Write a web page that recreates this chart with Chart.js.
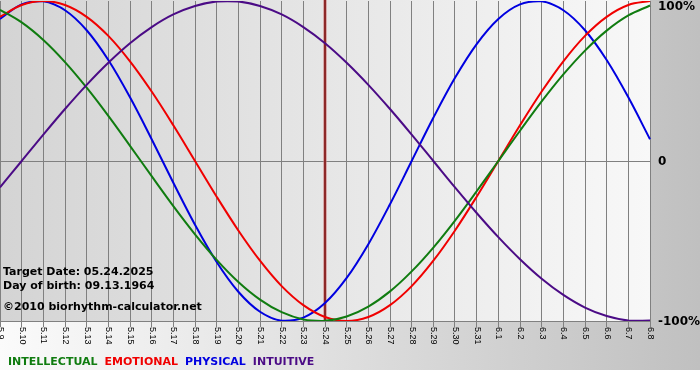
<!DOCTYPE html>
<html>
<head>
<meta charset="utf-8">
<script src="https://cdn.jsdelivr.net/npm/chart.js@4"></script>
<style>
  html, body { margin: 0; padding: 0; background: #fff; }
  canvas { display: block; }
</style>
</head>
<body>
<canvas id="bioChart" width="700" height="380"></canvas>
<script>
// days shown on the x axis (month.day)
var days = ['5.9', '5.10', '5.11', '5.12', '5.13', '5.14', '5.15', '5.16', '5.17', '5.18',
  '5.19', '5.20', '5.21', '5.22', '5.23', '5.24', '5.25', '5.26', '5.27', '5.28',
  '5.29', '5.30', '5.31', '6.1', '6.2', '6.3', '6.4', '6.5', '6.6', '6.7', '6.8'];

// cycle values in percent, one per day
var intellectual = [94.5, 86.6, 75.6, 61.8, 45.8, 28.2, 9.5, -9.5, -28.2, -45.8, -61.8,
  -75.6, -86.6, -94.5, -99.0, -99.9, -97.2, -91.0, -81.5, -69.0, -54.1, -37.2, -18.9,
  0, 18.9, 37.2, 54.1, 69.0, 81.5, 91.0, 97.2];
var emotional = [90.1, 97.5, 100, 97.5, 90.1, 78.2, 62.3, 43.4, 22.3, 0, -22.3, -43.4,
  -62.3, -78.2, -90.1, -97.5, -100, -97.5, -90.1, -78.2, -62.3, -43.4, -22.3, 0, 22.3,
  43.4, 62.3, 78.2, 90.1, 97.5, 100];
var physical = [88.8, 97.9, 99.8, 94.2, 81.7, 63.1, 39.8, 13.6, -13.6, -39.8, -63.1,
  -81.7, -94.2, -99.8, -97.9, -88.8, -73.1, -52.0, -27.0, 0, 27.0, 52.0, 73.1, 88.8,
  97.9, 99.8, 94.2, 81.7, 63.1, 39.8, 13.6];
var intuitive = [-16.5, 0, 16.5, 32.5, 47.6, 61.4, 73.6, 83.7, 91.6, 96.9, 99.7, 99.7,
  96.9, 91.6, 83.7, 73.6, 61.4, 47.6, 32.5, 16.5, 0, -16.5, -32.5, -47.6, -61.4, -73.6,
  -83.7, -91.6, -96.9, -99.7, -99.7];

var targetDay = '5.24';
var infoLines = ['Target Date: 05.24.2025', 'Day of birth: 09.13.1964'];
var copyright = '\u00a92010 biorhythm-calculator.net';
var percentLabels = [[100, '100%'], [0, '0'], [-100, '-100%']];
var legendItems = [['INTELLECTUAL', '#107c10'], ['EMOTIONAL', '#f00000'],
  ['PHYSICAL', '#0000e0'], ['INTUITIVE', '#4b0b86']];

var boldFont = 'bold 11px "DejaVu Sans"';

// backgrounds, target marker, axis labels and texts
var bioDecor = {
  id: 'bioDecor',
  beforeDraw: function (chart) {
    var c = chart.ctx, a = chart.chartArea;
    c.save();
    c.fillStyle = '#fff';
    c.fillRect(0, 0, chart.width, chart.height);
    var outer = c.createLinearGradient(0, 0, chart.width, 0);
    outer.addColorStop(0, '#fbfbfb');
    outer.addColorStop(1, '#c0c0c0');
    c.fillStyle = outer;
    c.fillRect(0, 0, chart.width, 370);
    var inner = c.createLinearGradient(a.left, 0, a.right, 0);
    inner.addColorStop(0, '#d4d4d4');
    inner.addColorStop(1, '#f8f8f8');
    c.fillStyle = inner;
    c.fillRect(a.left, a.top - 1, a.right - a.left, a.bottom - a.top + 1);
    c.restore();
  },
  beforeDatasetsDraw: function (chart) {
    var c = chart.ctx, a = chart.chartArea;
    var x = chart.scales.x.getPixelForValue(days.indexOf(targetDay));
    c.save();
    c.strokeStyle = '#c87070';
    c.lineWidth = 3;
    c.beginPath();
    c.moveTo(x, 0);
    c.lineTo(x, a.bottom);
    c.stroke();
    c.strokeStyle = '#7a1010';
    c.lineWidth = 1.5;
    c.beginPath();
    c.moveTo(x, 0);
    c.lineTo(x, a.bottom);
    c.stroke();
    c.restore();
  },
  afterDraw: function (chart) {
    var c = chart.ctx, a = chart.chartArea;
    var xs = chart.scales.x, ys = chart.scales.y;
    c.save();

    // day labels, reading downwards
    c.fillStyle = '#000';
    c.font = '9px "Liberation Sans"';
    c.textAlign = 'left';
    c.textBaseline = 'middle';
    days.forEach(function (d, i) {
      var x = Math.round(xs.getPixelForValue(i)) + 0.5;
      c.save();
      c.translate(x, a.bottom + 6);
      c.rotate(Math.PI / 2);
      c.fillText(d, 0, 0);
      c.restore();
    });

    // percent labels on the right
    c.fillStyle = '#000';
    c.font = 'bold 12px "DejaVu Sans"';
    percentLabels.forEach(function (p) {
      c.fillText(p[1], a.right + 8, ys.getPixelForValue(p[0]) + (p[0] === 100 ? 6 : 1));
    });

    // info texts
    c.font = boldFont;
    c.textBaseline = 'middle';
    c.fillText(infoLines[0], 3, 272);
    c.fillText(infoLines[1], 3, 286);
    c.fillText(copyright, 3, 307);

    // legend
    var lx = 8;
    legendItems.forEach(function (it) {
      c.fillStyle = it[1];
      c.fillText(it[0], lx, 362);
      lx += c.measureText(it[0]).width + 7;
    });
    c.restore();
  }
};

function line(data, color) {
  return {
    data: data,
    borderColor: color,
    borderWidth: 2,
    pointRadius: 0,
    tension: 0.35,
    fill: false
  };
}

var ctx = document.getElementById('bioChart');
var bioChart = new Chart(ctx, {
  type: 'line',
  data: {
    labels: days,
    datasets: [
      line(intuitive, '#4b0b86'),
      line(intellectual, '#107c10'),
      line(emotional, '#f00000'),
      line(physical, '#0000e0')
    ]
  },
  options: {
    responsive: false,
    devicePixelRatio: 1,
    animation: false,
    layout: { padding: { left: 0, right: 50, top: 1, bottom: 53 } },
    plugins: { legend: { display: false }, tooltip: { enabled: false } },
    scales: {
      x: {
        offset: false,
        grid: { color: '#808080', lineWidth: 1, drawTicks: true, tickLength: 6 },
        border: { display: false },
        ticks: { display: false }
      },
      y: {
        min: -100,
        max: 100,
        grid: {
          drawTicks: false,
          lineWidth: 1,
          color: function (c) {
            return c.tick && (c.tick.value === 0 || c.tick.value === -100) ? '#808080' : 'rgba(0,0,0,0)';
          }
        },
        border: { display: false },
        ticks: { display: false, stepSize: 100 }
      }
    }
  },
  plugins: [bioDecor]
});
</script>
</body>
</html>
